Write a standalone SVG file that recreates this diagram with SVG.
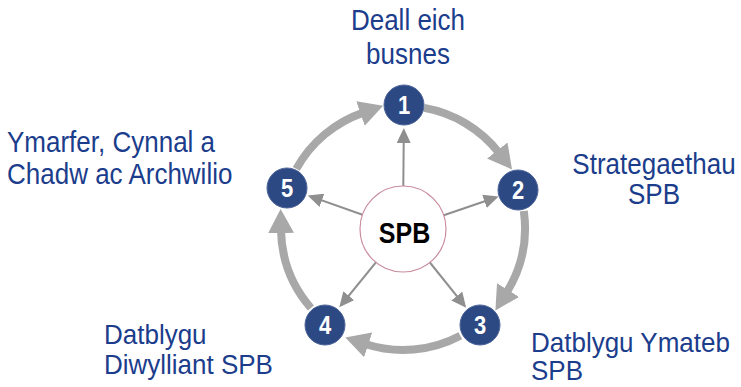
<svg xmlns="http://www.w3.org/2000/svg" width="741" height="387" viewBox="0 0 741 387">
<style>
.lbl{font-family:"Liberation Sans",Arial,sans-serif;font-size:26px;fill:#1b3d8c}
.ring{fill:none;stroke:#a8a8a8;stroke-width:8}
.spoke{stroke:#8f8f8f;stroke-width:2}
.node{fill:#2d4983;stroke:#4f669a;stroke-width:1}
.num{font-family:"Liberation Sans",Arial,sans-serif;font-size:22px;font-weight:bold;fill:#ffffff;text-anchor:middle}
.hub{fill:#ffffff;stroke:#c98c9c;stroke-width:1.2}
.hubt{font-family:"Liberation Sans",Arial,sans-serif;font-size:25px;font-weight:bold;fill:#000000;text-anchor:middle}
</style>
<defs>
<marker id="big" markerUnits="userSpaceOnUse" markerWidth="26" markerHeight="26" viewBox="0 0 26 26" refX="3" refY="13" orient="auto">
<path d="M0,0 L24,13 L0,26 z" fill="#a8a8a8"/>
</marker>
<marker id="small" markerUnits="userSpaceOnUse" markerWidth="16" markerHeight="14" viewBox="0 0 16 14" refX="12" refY="7" orient="auto">
<path d="M0,0 L15,7 L0,14 z" fill="#8f8f8f"/>
</marker>
</defs>
<rect width="741" height="387" fill="#ffffff"/>
<g id="connectors">
<path class="ring" marker-end="url(#big)" d="M424.2,107.9 A122,122 0 0 1 499.1,152.9"/>
<path class="ring" marker-end="url(#big)" d="M523.8,211.0 A122,122 0 0 1 506.5,292.6"/>
<path class="ring" marker-end="url(#big)" d="M460.3,335.7 A122,122 0 0 1 365.3,344.0"/>
<path class="ring" marker-end="url(#big)" d="M310.9,308.0 A122,122 0 0 1 281.0,230.1"/>
<path class="ring" marker-end="url(#big)" d="M296.3,168.9 A122,122 0 0 1 363.3,112.6"/>
<line class="spoke" marker-end="url(#small)" x1="403.3" y1="186" x2="403.8" y2="131"/>
<line class="spoke" marker-end="url(#small)" x1="443.7" y1="215.2" x2="495.8" y2="197.5"/>
<line class="spoke" marker-end="url(#small)" x1="429.9" y1="262.5" x2="464.3" y2="305.4"/>
<line class="spoke" marker-end="url(#small)" x1="375.9" y1="262.4" x2="341.2" y2="305.0"/>
<line class="spoke" marker-end="url(#small)" x1="362.5" y1="214.7" x2="310.6" y2="196.4"/>
</g>
<g id="hub">
<circle class="hub" cx="403" cy="229" r="43"/>
<text class="hubt" transform="translate(404.5,243) scale(1,1.2)">SPB</text>
</g>
<g id="node1">
<circle class="node" cx="404" cy="105" r="20"/>
<text class="num" transform="translate(404,114) scale(1,1.15)">1</text>
<text class="lbl" text-anchor="middle" transform="translate(408,30) scale(1,1.1)">Deall eich</text>
<text class="lbl" text-anchor="middle" transform="translate(408,64) scale(1,1.1)">busnes</text>
</g>
<g id="node2">
<circle class="node" cx="518" cy="190" r="20"/>
<text class="num" transform="translate(518,199) scale(1,1.15)">2</text>
<text class="lbl" text-anchor="middle" transform="translate(654,174) scale(1,1.1)">Strategaethau</text>
<text class="lbl" text-anchor="middle" transform="translate(654,204) scale(1,1.1)">SPB</text>
</g>
<g id="node3">
<circle class="node" cx="480" cy="325" r="20"/>
<text class="num" transform="translate(480,334) scale(1,1.15)">3</text>
<text class="lbl" transform="translate(531,352) scale(1,1.05)">Datblygu Ymateb</text>
<text class="lbl" transform="translate(531,380) scale(1,1.05)">SPB</text>
</g>
<g id="node4">
<circle class="node" cx="325" cy="325" r="20"/>
<text class="num" transform="translate(325,334) scale(1,1.15)">4</text>
<text class="lbl" transform="translate(104,344) scale(1,1.05)">Datblygu</text>
<text class="lbl" transform="translate(104,374) scale(1,1.05)">Diwylliant SPB</text>
</g>
<g id="node5">
<circle class="node" cx="287" cy="188" r="20"/>
<text class="num" transform="translate(287,197) scale(1,1.15)">5</text>
<text class="lbl" transform="translate(7,152) scale(1,1.1)">Ymarfer, Cynnal a</text>
<text class="lbl" transform="translate(7,184) scale(1,1.1)">Chadw ac Archwilio</text>
</g>
</svg>
